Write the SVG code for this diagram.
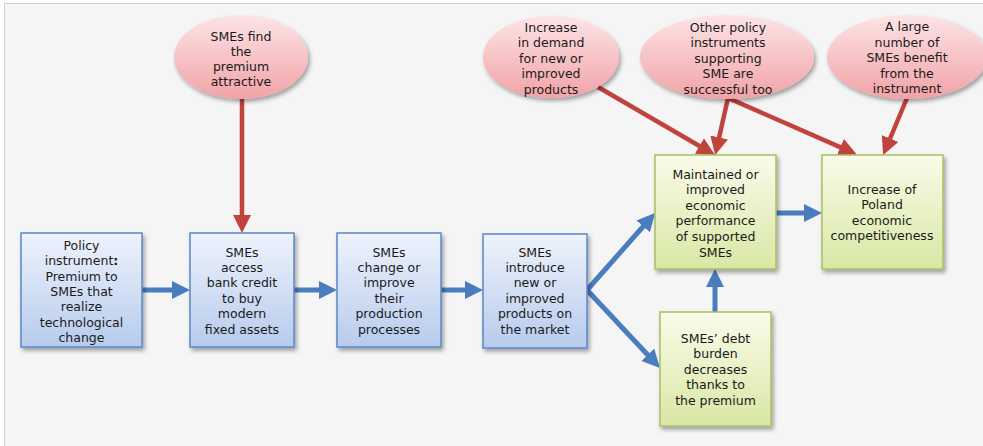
<svg xmlns="http://www.w3.org/2000/svg" width="983" height="446" viewBox="0 0 983 446">
<defs>
<style>
text{font-family:"DejaVu Sans","Verdana",sans-serif;font-size:12.5px;fill:#1a1a1a;text-anchor:middle}
.blue{fill:url(#gBlue);stroke:#5a88c8;stroke-width:1.5}
.green{fill:url(#gGreen);stroke:#a8c060;stroke-width:1.5}
.pink{fill:url(#gPink);stroke:none}
.bl{stroke:#4a7dc0;stroke-width:5;fill:none}
.rd{stroke:#c0433e;stroke-width:4.5;fill:none}
</style>
<linearGradient id="gBlue" x1="0" y1="0" x2="0" y2="1"><stop offset="0" stop-color="#eef3fc"/><stop offset="1" stop-color="#b7cbed"/></linearGradient>
<linearGradient id="gGreen" x1="0" y1="0" x2="0" y2="1"><stop offset="0" stop-color="#fafbea"/><stop offset="1" stop-color="#d9e7a4"/></linearGradient>
<linearGradient id="gPink" x1="0" y1="0" x2="0" y2="1"><stop offset="0" stop-color="#fde4e6"/><stop offset="1" stop-color="#f1a3a7"/></linearGradient>
<filter id="sh" x="-20%" y="-20%" width="150%" height="150%"><feDropShadow dx="2" dy="3" stdDeviation="2" flood-color="#000" flood-opacity="0.35"/></filter>
<marker id="aB" markerUnits="userSpaceOnUse" markerWidth="18" markerHeight="18" refX="6" refY="9" orient="auto"><path d="M0,0 L18,9 L0,18 z" fill="#4a7dc0"/></marker>
<marker id="aR" markerUnits="userSpaceOnUse" markerWidth="18" markerHeight="18" refX="6" refY="9" orient="auto"><path d="M0,0 L18,9 L0,18 z" fill="#c0433e"/></marker>
</defs>
<rect x="0" y="0" width="983" height="446" fill="#ffffff"/>
<rect x="4.5" y="3.5" width="990" height="450" fill="#f5f5f5" stroke="#d2d2d2" stroke-width="1"/>

<g id="connectors">
<line class="bl" x1="142" y1="290" x2="178" y2="290" marker-end="url(#aB)"/>
<line class="bl" x1="294" y1="290" x2="325" y2="290" marker-end="url(#aB)"/>
<line class="bl" x1="441" y1="290" x2="471" y2="290" marker-end="url(#aB)"/>
<line class="bl" x1="587" y1="290" x2="647.1" y2="222" marker-end="url(#aB)"/>
<line class="bl" x1="587" y1="290" x2="651.8" y2="359.2" marker-end="url(#aB)"/>
<line class="bl" x1="715" y1="312" x2="715" y2="281" marker-end="url(#aB)"/>
<line class="bl" x1="776" y1="213" x2="810" y2="213" marker-end="url(#aB)"/>
<line class="rd" x1="242" y1="95" x2="242" y2="221" marker-end="url(#aR)"/>
<line class="rd" x1="598" y1="87" x2="704.6" y2="149" marker-end="url(#aR)"/>
<line class="rd" x1="728" y1="98" x2="717.8" y2="143.3" marker-end="url(#aR)"/>
<line class="rd" x1="728" y1="98" x2="845.8" y2="149.6" marker-end="url(#aR)"/>
<line class="rd" x1="907" y1="98" x2="887.8" y2="144" marker-end="url(#aR)"/>
</g>

<g id="e1"><ellipse class="pink" filter="url(#sh)" cx="241" cy="57" rx="67" ry="42"/>
<text x="241" y="40.5">SMEs find<tspan x="241" dy="15.3">the</tspan><tspan x="241" dy="15.3">premium</tspan><tspan x="241" dy="15.3">attractive</tspan></text></g>
<g id="e2"><ellipse class="pink" filter="url(#sh)" cx="551" cy="57" rx="68" ry="41"/>
<text x="551" y="31.5">Increase<tspan x="551" dy="15.5">in demand</tspan><tspan x="551" dy="15.5">for new or</tspan><tspan x="551" dy="15.5">improved</tspan><tspan x="551" dy="15.5">products</tspan></text></g>
<g id="e3"><ellipse class="pink" filter="url(#sh)" cx="727" cy="57" rx="87" ry="42"/>
<text x="728" y="31.5">Other policy<tspan x="728" dy="15.5">instruments</tspan><tspan x="728" dy="15.5">supporting</tspan><tspan x="728" dy="15.5">SME are</tspan><tspan x="728" dy="15.5">successful too</tspan></text></g>
<g id="e4"><ellipse class="pink" filter="url(#sh)" cx="907" cy="57" rx="80" ry="42"/>
<text x="907" y="31">A large<tspan x="907" dy="15.5">number of</tspan><tspan x="907" dy="15.5">SMEs benefit</tspan><tspan x="907" dy="15.5">from the</tspan><tspan x="907" dy="15.5">instrument</tspan></text></g>

<g id="b1"><rect class="blue" filter="url(#sh)" x="21" y="233" width="121" height="114"/>
<text x="81.5" y="250">Policy<tspan x="81.5" dy="15.3">instrument<tspan font-weight="bold">:</tspan></tspan><tspan x="81.5" dy="15.3">Premium to</tspan><tspan x="81.5" dy="15.3">SMEs that</tspan><tspan x="81.5" dy="15.3">realize</tspan><tspan x="81.5" dy="15.3">technological</tspan><tspan x="81.5" dy="15.3">change</tspan></text></g>
<g id="b2"><rect class="blue" filter="url(#sh)" x="190" y="233" width="104" height="114"/>
<text x="242" y="256.5">SMEs<tspan x="242" dy="15.4">access</tspan><tspan x="242" dy="15.4">bank credit</tspan><tspan x="242" dy="15.4">to buy</tspan><tspan x="242" dy="15.4">modern</tspan><tspan x="242" dy="15.4">fixed assets</tspan></text></g>
<g id="b3"><rect class="blue" filter="url(#sh)" x="337" y="233" width="104" height="114"/>
<text x="389" y="256.5">SMEs<tspan x="389" dy="15.4">change or</tspan><tspan x="389" dy="15.4">improve</tspan><tspan x="389" dy="15.4">their</tspan><tspan x="389" dy="15.4">production</tspan><tspan x="389" dy="15.4">processes</tspan></text></g>
<g id="b4"><rect class="blue" filter="url(#sh)" x="483" y="234" width="104" height="114"/>
<text x="535" y="256.5">SMEs<tspan x="535" dy="15.4">introduce</tspan><tspan x="535" dy="15.4">new or</tspan><tspan x="535" dy="15.4">improved</tspan><tspan x="535" dy="15.4">products on</tspan><tspan x="535" dy="15.4">the market</tspan></text></g>

<g id="g1"><rect class="green" filter="url(#sh)" x="655" y="155" width="121" height="114"/>
<text x="715.5" y="178.5">Maintained or<tspan x="715.5" dy="15.6">improved</tspan><tspan x="715.5" dy="15.6">economic</tspan><tspan x="715.5" dy="15.6">performance</tspan><tspan x="715.5" dy="15.6">of supported</tspan><tspan x="715.5" dy="15.6">SMEs</tspan></text></g>
<g id="g2"><rect class="green" filter="url(#sh)" x="822" y="155" width="121" height="114"/>
<text x="882" y="193.5">Increase of<tspan x="882" dy="15.5">Poland</tspan><tspan x="882" dy="15.5">economic</tspan><tspan x="882" dy="15.5">competitiveness</tspan></text></g>
<g id="g3"><rect class="green" filter="url(#sh)" x="660" y="312" width="111" height="114"/>
<text x="715.5" y="342.5">SMEs’ debt<tspan x="715.5" dy="15.5">burden</tspan><tspan x="715.5" dy="15.5">decreases</tspan><tspan x="715.5" dy="15.5">thanks to</tspan><tspan x="715.5" dy="15.5">the premium</tspan></text></g>
</svg>
